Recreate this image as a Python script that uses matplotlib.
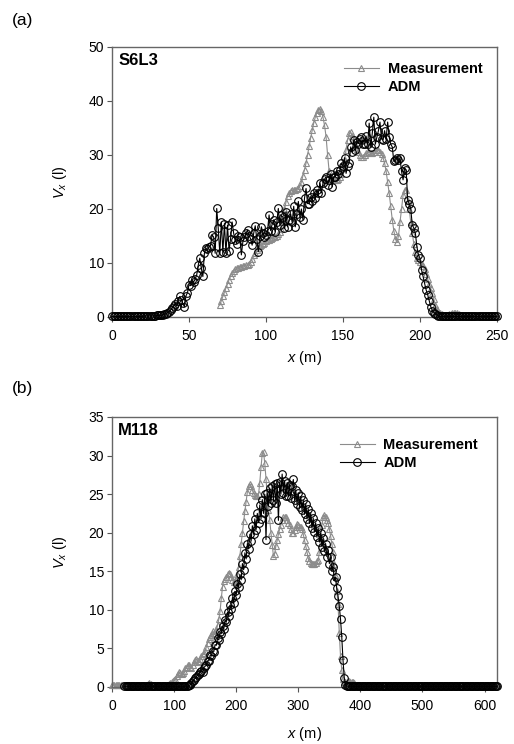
import numpy as np
import matplotlib
matplotlib.use("Agg")
import matplotlib.pyplot as plt

plt.rcParams['font.family'] = ['Liberation Sans', 'DejaVu Sans']
plt.rcParams['mathtext.fontset'] = 'custom'
plt.rcParams['mathtext.rm'] = 'Liberation Sans'
plt.rcParams['mathtext.it'] = 'Liberation Sans:italic'

# ---------------- Panel (a): S6L3 ----------------
a_title = "S6L3"
a_adm_x0, a_adm_dx = 0, 1
a_adm = [
    0.1, 0.1, 0.1, 0.1, 0.1, 0.1, 0.1, 0.1, 0.1, 0.1,
    0.1, 0.1, 0.1, 0.1, 0.1, 0.1, 0.1, 0.1, 0.1, 0.1,
    0.1, 0.2, 0.2, 0.2, 0.2, 0.2, 0.2, 0.2, 0.2, 0.3,
    0.3, 0.3, 0.3, 0.4, 0.5, 0.6, 0.8, 1.0, 1.3, 1.6,
    2.0, 2.4, 2.0, 3.0, 3.8, 3.2, 2.5, 1.9, 3.9, 4.5,
    6.0, 5.8, 6.8, 6.5, 7.0, 7.8, 9.6, 10.9, 9.0, 7.5,
    11.8, 12.7, 12.5, 13.0, 13.2, 15.2, 14.8, 11.8, 20.1, 16.4,
    11.8, 17.6, 12.0, 17.3, 11.8, 17.0, 12.3, 14.5, 17.6, 15.5,
    14.2, 13.6, 15.0, 14.8, 11.5, 14.0, 14.8, 15.5, 16.1, 15.0,
    14.5, 13.3, 15.5, 16.9, 14.5, 12.1, 15.0, 16.7, 15.5, 14.8,
    15.1, 16.0, 18.9, 16.0, 17.2, 18.0, 15.8, 17.5, 20.1, 17.0,
    18.8, 18.5, 16.4, 19.5, 16.7, 18.0, 19.1, 17.5, 20.5, 16.7,
    19.0, 21.4, 18.5, 20.0, 18.0, 22.0, 23.8, 21.0, 21.0, 22.3,
    21.5, 23.0, 22.0, 23.5, 22.9, 24.8, 23.0, 24.8, 25.5, 26.0,
    24.5, 25.4, 26.5, 24.1, 26.0, 26.0, 27.0, 26.5, 27.2, 28.5,
    27.9, 29.5, 26.6, 28.0, 28.5, 31.5, 30.5, 32.8, 31.0, 32.5,
    32.1, 33.0, 33.3, 32.0, 32.1, 33.5, 32.0, 35.9, 31.5, 34.0,
    37.0, 32.0, 33.3, 34.5, 36.1, 33.0, 32.8, 34.5, 33.0, 36.1,
    33.3, 32.0, 31.5, 28.8, 29.0, 29.5, 29.0, 29.4, 27.0, 25.4,
    27.5, 27.2, 21.7, 21.0, 20.0, 17.0, 16.5, 15.5, 13.0, 11.5,
    10.9, 8.7, 7.5, 6.2, 5.0, 4.1, 3.0, 1.9, 1.2, 0.8,
    0.6, 0.4, 0.2, 0.1, 0.1, 0.1, 0.1, 0.1, 0.1, 0.1,
    0.1, 0.1, 0.1, 0.1, 0.1, 0.1, 0.1, 0.1, 0.1, 0.1,
    0.1, 0.1, 0.1, 0.1, 0.1, 0.1, 0.1, 0.1, 0.1, 0.1,
    0.1, 0.1, 0.1, 0.1, 0.1, 0.1, 0.1, 0.1, 0.1, 0.1,
    0.1,
]
a_meas_x0, a_meas_dx = 70, 1
a_meas = [
    2.2, 3.0, 3.8, 4.6, 5.4, 6.2, 6.9, 7.6, 8.2, 8.6,
    8.8, 9.0, 9.1, 9.2, 9.3, 9.4, 9.5, 9.6, 9.7, 9.9,
    10.2, 10.8, 11.4, 11.9, 12.4, 12.8, 13.1, 13.3, 13.5, 13.7,
    14.0, 14.2, 14.3, 14.5, 14.6, 14.8, 14.9, 15.0, 15.3, 15.7,
    16.3, 18.0, 20.0, 21.3, 22.4, 23.0, 23.3, 23.5, 23.5, 23.6,
    23.7, 23.9, 24.2, 25.0, 26.2, 27.3, 28.5, 30.0, 31.6, 33.2,
    34.6, 35.9, 37.0, 37.8, 38.4, 38.6, 38.2, 37.0, 35.5, 33.4,
    30.0, 27.0, 26.0, 25.4, 25.3, 25.3, 25.4, 25.6, 25.9, 26.5,
    27.5, 29.0, 31.0, 32.8, 34.0, 34.2, 33.6, 32.9, 32.0, 31.2,
    30.5, 30.0, 29.7, 29.7, 30.0, 30.3, 30.5, 30.5, 30.4, 30.3,
    30.5, 30.9, 31.0, 30.9, 30.6, 30.2, 29.5, 28.5, 27.0, 25.0,
    22.9, 20.5, 18.0, 16.0, 14.5, 13.8, 15.0, 17.5, 20.0, 22.5,
    23.6, 23.5, 21.5, 20.0, 17.5, 15.5, 13.5, 12.0, 11.0, 10.5,
    10.2, 9.9, 9.5, 8.8, 8.0, 7.0, 6.2, 5.3, 4.4, 3.3,
    2.2, 1.5, 1.0, 0.7, 0.5, 0.4, 0.3, 0.3, 0.4, 0.5,
    0.6, 0.7, 0.8, 0.8, 0.7, 0.6, 0.4, 0.3, 0.2, 0.2,
    0.1, 0.1, 0.1, 0.1, 0.1, 0.1, 0.1, 0.1, 0.1, 0.1,
    0.1, 0.1, 0.1, 0.1, 0.1, 0.1, 0.1, 0.1, 0.1, 0.1,
    0.1,
]
a_xticks = [0, 50, 100, 150, 200, 250]
a_yticks = [0, 10, 20, 30, 40, 50]

# ---------------- Panel (b): M118 ----------------
b_title = "M118"
b_adm_x0, b_adm_dx = 20, 2
b_adm = (
    [0.1] * 51 +
    [0.1, 0.2, 0.3, 0.5, 0.8, 0.9, 1.2, 1.3, 1.6, 1.7,
     2.0, 2.1, 2.0, 2.5, 2.7, 2.8, 3.4, 3.4, 4.1, 4.0,
     4.7, 4.6, 5.5, 5.4, 6.3, 6.1, 7.1, 6.9, 7.9, 7.5,
     8.7, 8.4, 9.7, 9.2, 10.6, 10.1, 11.6, 10.9, 12.4, 11.9,
     13.4, 12.9, 14.6, 13.9, 16.0, 15.2, 17.4, 16.6, 18.6, 17.9,
     19.8, 18.9, 20.9, 19.8, 21.8, 20.4, 22.5, 21.3, 23.6, 21.8,
     24.3, 22.5, 25.0, 19.1, 25.2, 23.5, 25.8, 23.9, 26.0, 24.2,
     26.3, 23.8, 26.5, 21.6, 26.6, 25.0, 27.6, 25.2, 26.7, 24.8,
     26.5, 24.7, 26.2, 24.5, 26.0, 26.9, 24.2, 25.5, 23.7, 25.2,
     23.3, 24.7, 22.9, 24.2, 22.4, 23.7, 21.8, 23.1, 21.2, 22.5,
     20.6, 21.9, 20.1, 21.3, 19.4, 20.6, 18.8, 20.0, 18.2, 19.3,
     17.6, 18.6, 16.9, 17.8, 16.0, 16.9, 15.0, 15.6, 13.8, 14.2,
     12.8, 11.8, 10.5, 8.8, 6.5, 3.5, 1.2, 0.3] +
    [0.1] * 122
)
b_meas_x0, b_meas_dx = 0, 2
b_meas = (
    [0.3, 0.3, 0.2, 0.3, 0.3, 0.2, 0.2, 0.2, 0.2, 0.2,
     0.2, 0.2, 0.2, 0.2, 0.2, 0.2, 0.2, 0.2, 0.2, 0.2,
     0.2, 0.2, 0.2, 0.2, 0.2, 0.2, 0.2, 0.2, 0.3, 0.4,
     0.5, 0.4, 0.3, 0.2, 0.2, 0.2, 0.2, 0.2, 0.2, 0.2,
     0.2, 0.2, 0.2, 0.2, 0.3, 0.3] +
    [0.4, 0.5, 0.6, 0.8, 0.9, 1.1, 1.4, 1.7, 1.9, 1.8,
     1.7, 1.8, 2.1, 2.4, 2.6, 2.8, 2.8, 2.6, 2.5, 2.8,
     3.2, 3.5, 3.6, 3.4, 3.3, 3.6, 4.0, 4.3, 4.4, 4.7,
     5.2, 5.7, 6.2, 6.5, 6.8, 7.2, 7.0, 6.9, 7.4, 8.0,
     8.8, 9.8, 11.5, 13.0, 13.8, 14.0, 14.3, 14.6, 14.8, 14.7,
     14.3, 13.9, 13.6, 13.7, 14.0, 14.6, 15.6, 17.0, 18.6, 20.0,
     21.5, 22.8, 24.0, 25.3, 26.0, 26.3, 26.0, 25.5, 25.1, 24.9,
     24.8, 24.7, 25.0, 26.5, 28.5, 30.3, 30.5, 29.0, 27.0, 24.7,
     23.0, 21.6, 20.0, 18.4, 17.0, 17.3, 18.3, 19.0, 19.8, 20.5,
     21.0, 21.6, 22.0, 22.1, 22.0, 21.7, 21.3, 21.0, 20.5, 20.0,
     19.9, 20.3, 20.8, 21.1, 21.0, 20.8, 20.8, 20.5, 19.8, 19.0,
     18.3, 17.5, 16.7, 16.3, 16.1, 16.0, 16.0, 16.0, 16.1, 16.3,
     16.5, 17.5, 19.5, 21.0, 22.0, 22.3, 22.1, 21.6, 21.2, 20.5,
     19.6, 18.6, 17.5, 16.0, 14.3, 12.5, 10.8, 7.0, 4.0, 2.2,
     1.0, 0.7, 0.6, 0.7, 0.8, 0.8, 0.7, 0.7, 0.6, 0.5] +
    [0.3] * 115
)
b_xticks = [0, 100, 200, 300, 400, 500, 600]
b_yticks = [0, 5, 10, 15, 20, 25, 30, 35]

series_labels = ["Measurement", "ADM"]
GRAY = "#8c8c8c"

fig = plt.figure(figsize=(5.14, 7.44), dpi=100)
W, H = 514, 744
def axrect(l, t, r, b):
    return [l / W, 1 - b / H, (r - l) / W, (b - t) / H]

ax_a = fig.add_axes(axrect(112, 47, 497, 317))
ax_b = fig.add_axes(axrect(112, 417, 497, 687))

def draw(ax, mx0, mdx, my, ax0, adx, ay, xlim, ylim, xt, yt, title,
         leg_anchor, xlab_y):
    mx = mx0 + mdx * np.arange(len(my))
    axx = ax0 + adx * np.arange(len(ay))
    ax.plot(mx, my, color=GRAY, lw=0.8, marker='^', ms=5, mfc='none',
            mec=GRAY, mew=0.8, label=series_labels[0], zorder=2, clip_on=False)
    ax.plot(axx, ay, color='black', lw=0.8, marker='o', ms=5.5, mfc='none',
            mec='black', mew=0.8, label=series_labels[1], zorder=3, clip_on=False)
    ax.set_xlim(*xlim)
    ax.set_ylim(*ylim)
    ax.set_xticks(xt)
    ax.set_yticks(yt)
    ax.tick_params(direction='out', length=3.5, width=0.8, color='#555555',
                   labelsize=10)
    ax.tick_params(axis='x', pad=5)
    ax.tick_params(axis='y', pad=2)
    for s in ax.spines.values():
        s.set_color('#666666')
        s.set_linewidth(1.0)
    ax.text(0.016, 0.978, title, transform=ax.transAxes, ha='left', va='top',
            fontsize=12, fontweight='bold')
    ax.legend(loc='upper right', bbox_to_anchor=leg_anchor, frameon=False,
              prop={'weight': 'bold', 'size': 10.5}, handlelength=2.4,
              handletextpad=0.6, labelspacing=0.3, borderaxespad=0.0,
              borderpad=0.4)
    ax.set_xlabel('$x$ (m)', fontsize=10.5, va='center')
    ax.xaxis.set_label_coords(0.5, xlab_y)
    ax.set_ylabel('$V_x$ (l)', fontsize=10.5)
    ax.yaxis.set_label_coords(-0.112, 0.5)

draw(ax_a, a_meas_x0, a_meas_dx, a_meas, a_adm_x0, a_adm_dx, a_adm,
     (0, 250), (0, 50), a_xticks, a_yticks, a_title, (0.977, 0.967), -0.152)
draw(ax_b, b_meas_x0, b_meas_dx, b_meas, b_adm_x0, b_adm_dx, b_adm,
     (0, 620), (0, 35), b_xticks, b_yticks, b_title, (0.966, 0.944), -0.174)

fig.text(12 / W, 1 - 20 / H, "(a)", fontsize=12.5, ha='left', va='center')
fig.text(12 / W, 1 - 389 / H, "(b)", fontsize=12.5, ha='left', va='center')

fig.savefig("out.png", dpi=100)
